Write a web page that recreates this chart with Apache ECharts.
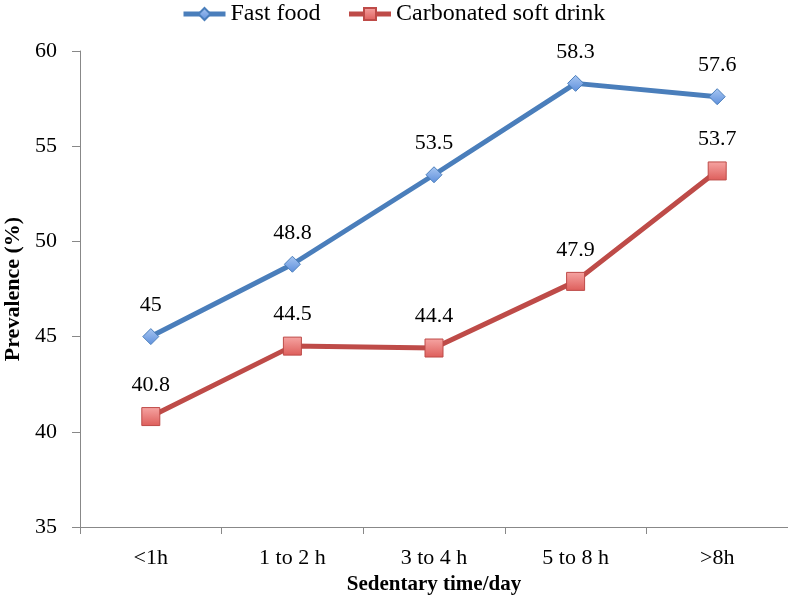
<!DOCTYPE html>
<html><head><meta charset="utf-8">
<script src="https://cdn.jsdelivr.net/npm/echarts@6/dist/echarts.min.js"></script>
<style>html,body{margin:0;padding:0;background:#fff}#c{width:788px;height:603px}</style>
</head><body><div id="c"></div>
<script>
const categories = ['<1h', '1 to 2 h', '3 to 4 h', '5 to 8 h', '>8h'];
const fastFood = [45, 48.8, 53.5, 58.3, 57.6];
const softDrink = [40.8, 44.5, 44.4, 47.9, 53.7];
const seriesNames = ['Fast food', 'Carbonated soft drink'];
const F = 'Liberation Serif';
const blueFill = new echarts.graphic.LinearGradient(0, 0, 0, 1, [
  { offset: 0, color: '#a9c7f2' }, { offset: 1, color: '#5d8fdc' }]);
const redFill = new echarts.graphic.LinearGradient(0, 0, 0, 1, [
  { offset: 0, color: '#f6a5a3' }, { offset: 1, color: '#dd5d5a' }]);
const chart = echarts.init(document.getElementById('c'));
chart.setOption({
  animation: false,
  textStyle: { fontFamily: F },
  legend: {
    top: 2, left: 181, padding: 0, itemGap: 26, itemWidth: 42, itemHeight: 15,
    lineStyle: { width: 5 },
    textStyle: { fontFamily: F, fontSize: 24, color: '#000' },
    data: seriesNames
  },
  grid: { left: 80, right: 0, top: 51, bottom: 76, outerBoundsMode: 'none' },
  xAxis: {
    type: 'category', data: categories, boundaryGap: true,
    axisLine: { lineStyle: { color: '#888', width: 1 } },
    axisTick: { show: true, length: 7, lineStyle: { color: '#888' } },
    axisLabel: { fontFamily: F, fontSize: 22, color: '#000', margin: 20 },
    name: 'Sedentary time/day', nameLocation: 'middle', nameGap: 41,
    nameTextStyle: { fontFamily: F, fontSize: 21, fontWeight: 'bold', color: '#000' }
  },
  yAxis: {
    type: 'value', min: 35, max: 60, interval: 5,
    axisLine: { show: true, lineStyle: { color: '#888', width: 1 } },
    axisTick: { show: true, length: 8, lineStyle: { color: '#888' } },
    splitLine: { show: false },
    axisLabel: { fontFamily: F, fontSize: 22, color: '#000', margin: 23 },
    name: 'Prevalence (%)', nameLocation: 'middle', nameGap: 55, nameRotate: 90,
    nameTextStyle: { fontFamily: F, fontSize: 22, fontWeight: 'bold', color: '#000' }
  },
  series: [
    {
      name: seriesNames[0], type: 'line', data: fastFood,
      symbol: 'diamond', symbolSize: 16,
      lineStyle: { color: '#4a7ebb', width: 5 },
      itemStyle: { color: blueFill, borderColor: '#4a7ebb', borderWidth: 1 },
      label: { show: true, position: 'top', distance: 12, fontFamily: F, fontSize: 22, color: '#000' }
    },
    {
      name: seriesNames[1], type: 'line', data: softDrink,
      symbol: 'rect', symbolSize: 18,
      lineStyle: { color: '#be4b48', width: 5 },
      itemStyle: { color: redFill, borderColor: '#be4b48', borderWidth: 1 },
      label: { show: true, position: 'top', distance: 11, fontFamily: F, fontSize: 22, color: '#000' }
    }
  ]
});
</script></body></html>
